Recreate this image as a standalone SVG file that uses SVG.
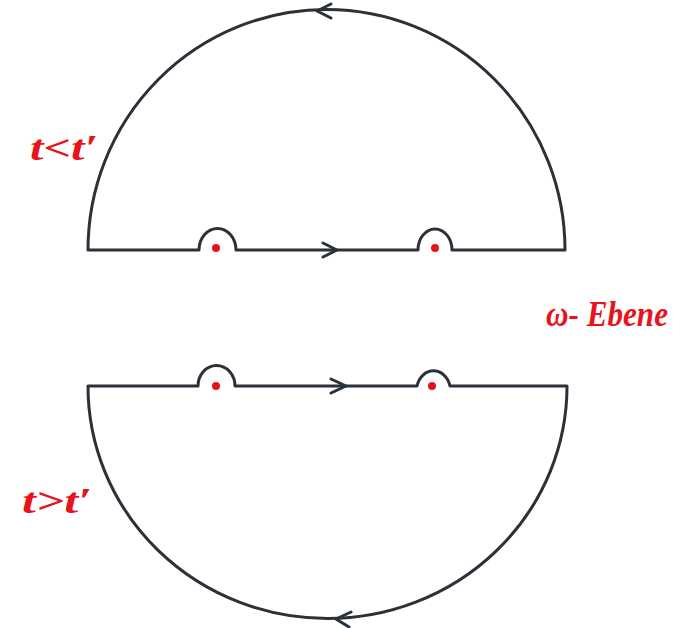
<svg xmlns="http://www.w3.org/2000/svg" width="686" height="628" viewBox="0 0 686 628">
<style>
.c{fill:none;stroke:#2b3138;stroke-width:3;stroke-linecap:round;stroke-linejoin:round}
.a{fill:none;stroke:#2b3138;stroke-width:3;stroke-linecap:round;stroke-linejoin:round}
.p{fill:#e3141b}
.l{fill:#e8141c;font-family:"Liberation Serif",serif;font-style:italic;font-weight:bold;font-size:36px}
</style>
<rect width="686" height="628" fill="#fff"/>
<g id="contour-upper">
<path class="c" d="M88,250 L199,250 A18,21 0 0 1 236,250 L418,250 A17,21 0 0 1 452,250 L565,250 A238,240 0 0 0 88,250"/>
</g>
<g id="contour-lower">
<path class="c" d="M88,386 L198,386 A18,20 0 0 1 235,386 L417,386 A17,20 0 0 1 450,386 L567,386 A239,232 0 0 1 88,386"/>
</g>
<g id="connectors">
<path class="a" d="M323,243 L337,250 L323,257"/>
<path class="a" d="M331,379 L346,386 L331,393"/>
<path class="a" d="M331,4 L317,11 L331,18"/>
<path class="a" d="M351,612 L336,619 L349,627"/>
</g>
<g id="poles">
<circle class="p" cx="216" cy="248" r="4"/>
<circle class="p" cx="435" cy="248" r="4"/>
<circle class="p" cx="216" cy="386" r="4"/>
<circle class="p" cx="432" cy="386" r="4"/>
</g>
<g id="labels">
<text class="l" x="30" y="160" textLength="68" lengthAdjust="spacingAndGlyphs">t&lt;t′</text>
<text class="l" x="22" y="513" textLength="70" lengthAdjust="spacingAndGlyphs">t&gt;t′</text>
<text class="l" x="546" y="326" font-size="30" textLength="122" lengthAdjust="spacingAndGlyphs">ω- Ebene</text>
</g>
</svg>
